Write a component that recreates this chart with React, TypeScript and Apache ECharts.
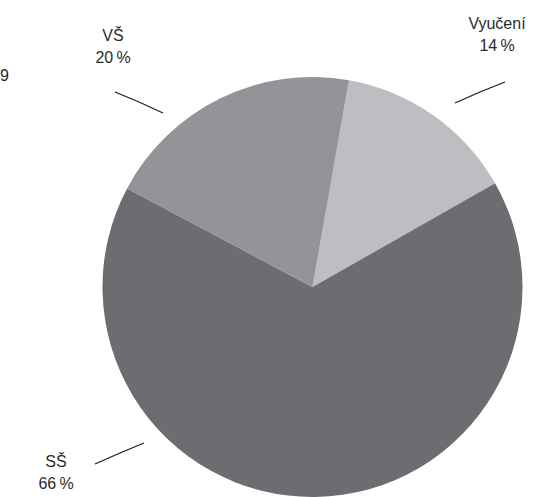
import React, { useEffect, useRef } from "react";
import * as echarts from "echarts";

const categories = ["Vyučení", "SŠ", "VŠ"];
const values = [14, 66, 20];
const colors = ["#bdbec1", "#6c6d71", "#939498"];

const labelPos = [
  { x: 497, y: 34, line: [[455, 103], [480, 92], [505, 82]] },
  { x: 56, y: 472, line: [[95, 464], [120, 453], [144, 443]] },
  { x: 113, y: 46, line: [[115, 92], [139, 102], [163, 113]] },
];

export default function App() {
  const ref = useRef<HTMLDivElement>(null);
  useEffect(() => {
    if (!ref.current) return;
    const chart = echarts.init(ref.current, null, { renderer: "svg" });
    chart.setOption({
      animation: false,
      backgroundColor: "#ffffff",
      graphic: [
        {
          type: "text",
          left: 0,
          top: 67,
          style: {
            text: "9",
            fontSize: 16,
            fontFamily: "Liberation Sans, Arial, sans-serif",
            fill: "#2b2b2b",
          },
        },
      ],
      series: [
        {
          type: "pie",
          center: [312.5, 287],
          radius: 210,
          startAngle: 80,
          clockwise: true,
          silent: true,
          data: categories.map((name, i) => ({
            name,
            value: values[i],
            itemStyle: { color: colors[i] },
          })),
          label: {
            show: true,
            formatter: "{b}\n{c}\u2009%",
            fontSize: 16,
            lineHeight: 22,
            color: "#2b2b2b",
            fontFamily: "Liberation Sans, Arial, sans-serif",
            align: "center",
          },
          labelLine: {
            show: true,
            lineStyle: { color: "#1a1a1a", width: 1.2 },
          },
          labelLayout: (params: any) => {
            const p = labelPos[params.dataIndex];
            return {
              x: p.x,
              y: p.y,
              align: "center",
              verticalAlign: "middle",
              labelLinePoints: p.line,
            };
          },
        },
      ],
    });
    return () => chart.dispose();
  }, []);
  return (
    <div
      ref={ref}
      style={{ position: "fixed", left: 0, top: 0, width: 558, height: 497 }}
    />
  );
}
